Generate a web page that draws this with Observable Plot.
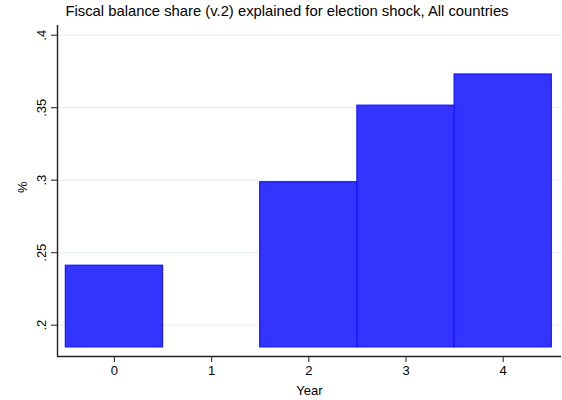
<!DOCTYPE html>
<html><head><meta charset="utf-8">
<script src="https://cdn.jsdelivr.net/npm/d3@7"></script>
<script src="https://cdn.jsdelivr.net/npm/@observablehq/plot@0.6"></script>
<style>
body{margin:0;background:#fff;font-family:"Liberation Sans",Arial,sans-serif;}
#title{height:22px;width:562px;font-size:14.8px;color:#000;position:relative;}
#title span{position:absolute;left:287px;transform:translateX(-50%);top:3px;white-space:nowrap}
</style></head><body>
<div id="title"><span></span></div>
<div id="chart"></div>
<script>
const title = "Fiscal balance share (v.2) explained for election shock, All countries";
const years = [0, 2, 3, 4];
const shares = [0.241, 0.2986, 0.3514, 0.3729];
const xTicks = [0, 1, 2, 3, 4];
const yTicks = [0.2, 0.25, 0.3, 0.35, 0.4];
const yTickLabels = [".2", ".25", ".3", ".35", ".4"];
const barBase = 0.1847;
const xDomain = [-0.586, 4.6];
const yDomain = [0.1784, 0.4067];

document.querySelector("#title span").textContent = title;
const data = years.map((y, i) => ({year: y, share: shares[i]}));
const font = "'Liberation Sans', Arial, sans-serif";

const chart = Plot.plot({
  width: 562, height: 378,
  marginTop: 3, marginLeft: 57, marginRight: 1, marginBottom: 44,
  style: {fontFamily: font, fontSize: "13px", color: "#000", background: "#fff"},
  x: {domain: xDomain},
  y: {domain: yDomain},
  marks: [
    Plot.gridY(yTicks, {stroke: "#e4eef0", strokeOpacity: 1}),
    Plot.rectY(data, {x1: d => d.year - 0.5, x2: d => d.year + 0.5, y1: barBase, y2: "share",
      fill: "#3434ff", stroke: "#1515ff", strokeWidth: 1.2}),
    Plot.axisY(yTicks, {tickFormat: d => yTickLabels[yTicks.indexOf(d)], tickRotate: -90,
      tickSize: 6, tickPadding: 6, label: null, stroke: "#222"}),
    Plot.axisX(xTicks, {tickFormat: d => String(d), tickSize: 6, tickPadding: 3,
      label: "Year", labelAnchor: "center", labelOffset: 38, labelArrow: "none", stroke: "#222"}),
    Plot.ruleX([xDomain[0]], {stroke: "#222", strokeWidth: 1.4}),
    Plot.ruleY([yDomain[0]], {stroke: "#222", strokeWidth: 1.4}),
    Plot.text(["%"], {frameAnchor: "left", dx: -35, dy: 2, rotate: -90, fontSize: 13, fill: "#000"})
  ]
});
document.getElementById("chart").append(chart);
</script>
</body></html>
